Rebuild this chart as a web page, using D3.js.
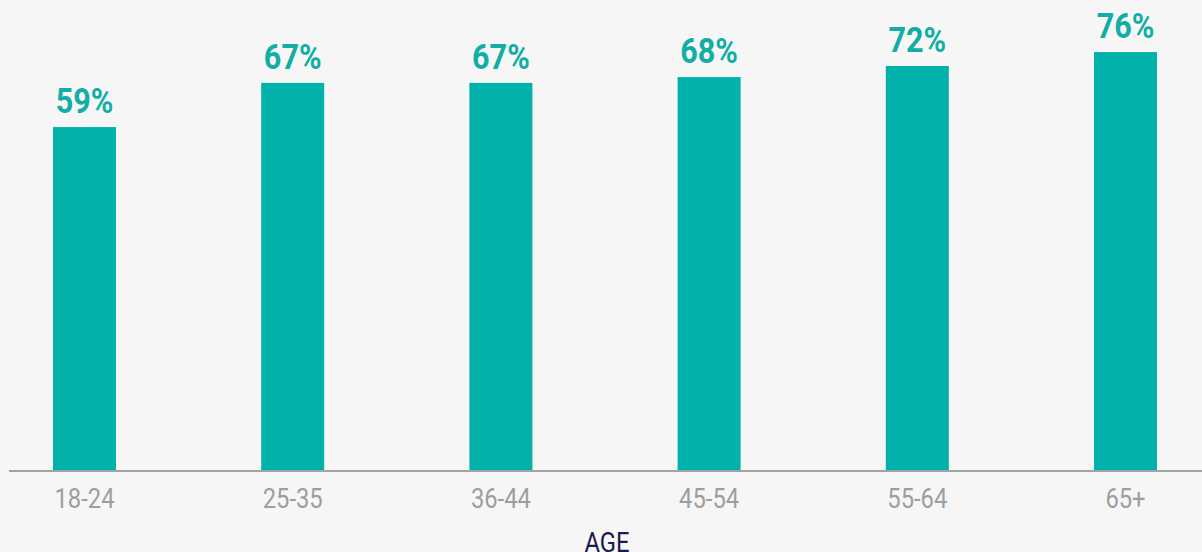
<!DOCTYPE html>
<html>
<head>
<meta charset="utf-8">
<script src="https://cdn.jsdelivr.net/npm/d3@7"></script>
<style>
  html, body { margin: 0; padding: 0; background: #f6f6f6; overflow: hidden; }
  text { font-family: Roboto, "Noto Sans", sans-serif; }
</style>
</head>
<body>
<svg id="chart"></svg>
<script>
// age groups and share (bar lengths as drawn, printed labels as shown)
const ages = ['18-24', '25-35', '36-44', '45-54', '55-64', '65+'];
const values = [59, 66.6, 66.6, 67.6, 69.5, 71.9];
const labels = ['59%', '67%', '67%', '68%', '72%', '76%'];
const axisTitle = 'AGE';

const W = 1202, H = 552;
const baseY = 470;
const squeeze = 0.85; // narrow the font a bit, the original uses a condensed face

const svg = d3.select('#chart')
    .attr('width', W)
    .attr('height', H);

const x = d3.scaleBand()
    .domain(ages)
    .range([53, 1157])
    .paddingInner(0.6974)
    .paddingOuter(0);

const y = d3.scaleLinear()
    .domain([0, 80])
    .range([baseY, 5]);

const data = ages.map((a, i) => ({ age: a, value: values[i], label: labels[i] }));

svg.selectAll('.bar')
    .data(data)
    .enter().append('rect')
    .attr('class', 'bar')
    .attr('x', d => x(d.age))
    .attr('y', d => y(d.value))
    .attr('width', x.bandwidth())
    .attr('height', d => y(0) - y(d.value))
    .attr('fill', '#00b2a9');

svg.selectAll('.value')
    .data(data)
    .enter().append('text')
    .attr('class', 'value')
    .attr('transform', d => `translate(${x(d.age) + x.bandwidth() / 2}, ${y(d.value) - 14}) scale(${squeeze},1)`)
    .attr('text-anchor', 'middle')
    .attr('font-size', 36)
    .attr('font-weight', 700)
    .attr('fill', '#12aea5')
    .text(d => d.label);

// baseline
svg.append('line')
    .attr('x1', 9)
    .attr('x2', W)
    .attr('y1', baseY + 1)
    .attr('y2', baseY + 1)
    .attr('stroke', '#a3a3a3')
    .attr('stroke-width', 2);

const xAxisG = svg.append('g')
    .attr('transform', `translate(0, ${baseY})`)
    .call(d3.axisBottom(x).tickSize(0).tickPadding(0));
xAxisG.select('.domain').remove();
xAxisG.selectAll('.tick text')
    .attr('y', 0)
    .attr('dy', null)
    .attr('transform', `translate(0, 38) scale(${squeeze},1)`)
    .attr('font-size', 28)
    .attr('fill', '#9e9e9e')
    .style('font-family', 'Roboto, sans-serif');

svg.append('text')
    .attr('transform', `translate(607, 552) scale(${squeeze},1)`)
    .attr('text-anchor', 'middle')
    .attr('font-size', 28)
    .attr('fill', '#1c1a48')
    .text(axisTitle);
</script>
</body>
</html>
